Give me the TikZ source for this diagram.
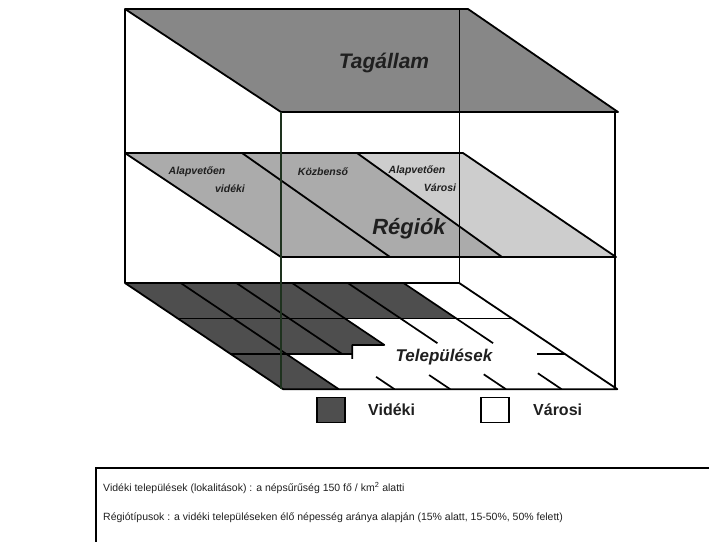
\documentclass[tikz,border=0pt]{standalone}
\usepackage{fontspec}
\setmainfont{Liberation Sans}
\usetikzlibrary{calc}
\definecolor{topgray}{HTML}{878787}
\definecolor{midgray}{HTML}{ABABAB}
\definecolor{palegray}{HTML}{CDCDCD}
\definecolor{darkcell}{HTML}{4E4E4E}
\definecolor{edgegreen}{HTML}{1E321E}
\begin{document}
\begin{tikzpicture}[x=1pt,y=-1pt,
  plane/.style={draw=black,line width=1.8pt,line join=round},
  gridline/.style={draw=black,line width=1.7pt},
  frameline/.style={draw=black,line width=1.1pt},
  lbl/.style={text=black!88,inner sep=0pt},
  legbox/.style={draw=black,line width=1.3pt,minimum width=28pt,minimum height=25pt,inner sep=0pt},
]
\useasboundingbox (0,0) rectangle (709,541);

% ---------- top plane (Tagallam)
\fill[topgray] (125,9) -- (468,9) -- (618,112) -- (281,112) -- cycle;
\draw[plane] (125,9) -- (468,9) -- (618,112) -- (281,112) -- cycle;
\node[lbl,font=\fontsize{21}{24}\selectfont\bfseries\itshape] (tag) at (384,63) {Tagállam};

% ---------- middle plane (Regiok)
\coordinate (m0) at (125,153); \coordinate (m1) at (242,153);
\coordinate (m2) at (357,153); \coordinate (m3) at (463,153);
\coordinate (f0) at (281,257); \coordinate (f1) at (390,257);
\coordinate (f2) at (502,257); \coordinate (f3) at (616,257);
\fill[midgray] (m0) -- (m2) -- (f2) -- (f0) -- cycle;
\fill[palegray] (m2) -- (m3) -- (f3) -- (f2) -- cycle;
\draw[plane] (m0) -- (m3) -- (f3) -- (f0) -- cycle;
\draw[plane] (m1) -- (f1);
\draw[plane] (m2) -- (f2);
\node[lbl,font=\fontsize{10.5}{12}\selectfont\bfseries\itshape] (av1) at (197,172) {Alapvetően};
\node[lbl,font=\fontsize{10.5}{12}\selectfont\bfseries\itshape] (vid) at (230,189) {vidéki};
\node[lbl,font=\fontsize{10.5}{12}\selectfont\bfseries\itshape] (kozb) at (323,172) {Közbenső};
\node[lbl,font=\fontsize{10.5}{12}\selectfont\bfseries\itshape] (av2) at (417,171) {Alapvetően};
\node[lbl,font=\fontsize{10.5}{12}\selectfont\bfseries\itshape] (var) at (440,188) {Városi};
\node[lbl,font=\fontsize{22}{25}\selectfont\bfseries\itshape] (reg) at (409,229) {Régiók};

% ---------- bottom plane (Telepulesek)
\foreach \u in {0,...,6}{\foreach \v in {0,...,3}{
  \coordinate (b\u\v) at ({125+55.7*\u+52.7*\v},{283+35.4*\v});}}
\coordinate (n1) at ($(b30)!0.5833!(b33)$);
\coordinate (n2) at ($(n1)+(-32,0)$);
\coordinate (n3) at (n2 |- b12);
\coordinate (p4) at ($(b40)!0.5667!(b43)$);
\coordinate (p5) at ($(b50)!0.5667!(b53)$);
\fill[darkcell] (b00) -- (b50) -- (b51) -- (b31) -- (n1) -- (n2) -- (n3)
  -- (b12) -- (b13) -- (b03) -- cycle;
% grid lines
\draw[gridline] (b01) -- (b61);
\draw[gridline] (b02) -- (n3);
\draw[gridline] ($(b52)!0.5!(b62)$) -- (b62);
\draw[gridline,line join=round] (b31) -- (n1) -- (n2) -- ($(n2)+(0,14)$);
\draw[gridline] (b10) -- (b13);
\draw[gridline] (b20) -- (b22);
\draw[gridline] (b30) -- (b31);
\draw[gridline] (b40) -- (b41) -- (p4);
\draw[gridline] (b50) -- (b51) -- (p5);
\draw[gridline] ($(b20)!0.8833!(b23)$) -- (b23);
\draw[gridline] ($(b30)!0.8667!(b33)$) -- (b33);
\draw[gridline] ($(b40)!0.86!(b43)$) -- (b43);
\draw[gridline] ($(b50)!0.85!(b53)$) -- (b53);
\draw[plane] (b00) -- (b60) -- (b63) -- (b03) -- cycle;
\node[lbl,font=\fontsize{17}{20}\selectfont\bfseries\itshape,fill=white,inner sep=1pt] (tel) at (444,357) {Települések};

% ---------- box frame verticals
\draw[frameline] (125,9) -- (125,283);
\draw[draw=black,line width=0.9pt] (459,9) -- (459,283);
\draw[line width=1.1pt,edgegreen] (281,112) -- (281,389);
\draw[draw=black,line width=1.6pt] (615,112) -- (615,389);

% ---------- legend
\node[legbox,fill=darkcell] (ldark) at (331,410) {};
\node[lbl,font=\fontsize{16}{18}\selectfont\bfseries,anchor=west] (lvid) at (368,410) {Vidéki};
\node[legbox,fill=white] (lwhite) at (495,410) {};
\node[lbl,font=\fontsize{16}{18}\selectfont\bfseries,anchor=west] (lvar) at (533,410) {Városi};

% ---------- text box
\draw[draw=black,line width=1.6pt] (96,545) -- (96,468) -- (712,468);
\node[lbl,font=\fontsize{10.5}{12}\selectfont,anchor=west] (t1) at (103,488)
  {Vidéki települések (lokalitások) : a népsűrűség 150 fő / km\textsuperscript{2} alatti};
\node[lbl,font=\fontsize{10.5}{12}\selectfont,anchor=west] (t2) at (103,518)
  {Régiótípusok : a vidéki településeken élő népesség aránya alapján (15\% alatt, 15-50\%, 50\% felett)};
\end{tikzpicture}
\end{document}
